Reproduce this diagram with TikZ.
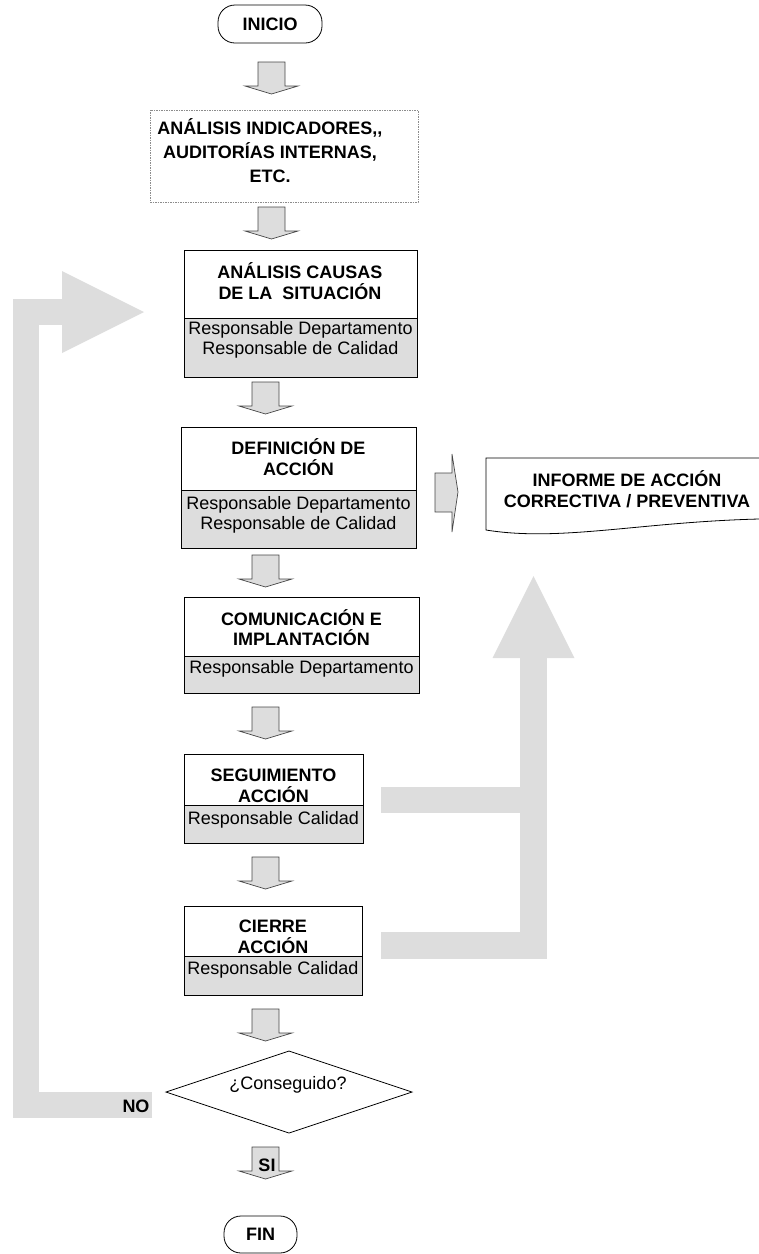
\documentclass[tikz,border=0pt]{standalone}
\usepackage{fontspec}
\setmainfont{Liberation Sans}
\usetikzlibrary{shapes.geometric,arrows.meta,calc,positioning}

\definecolor{gris}{RGB}{221,221,221}
\definecolor{borde}{RGB}{70,70,70}

\tikzset{
  caja/.style={draw=black, fill=white, line width=.8pt, inner sep=0pt, outer sep=0pt},
  resp/.style={caja, fill=gris},
  titulo/.style={inner sep=0pt, align=center, font=\fontsize{18}{20.5}\selectfont\bfseries},
  nombre/.style={inner sep=0pt, align=center, font=\fontsize{18}{20.5}\selectfont},
  terminal/.style={caja, rounded corners=17pt, font=\fontsize{18}{20.5}\selectfont\bfseries},
  decision/.style={diamond, draw=black, line width=.8pt, inner sep=0pt, outer sep=0pt},
  retorno/.style={draw=gris, line width=26.5pt, -{Triangle[length=82pt,width=82pt,line width=0pt]}},
  barra/.style={draw=gris, line width=26.5pt},
  pics/bajada/.style={code={\draw[fill=gris, draw=borde, line width=.7pt] (-13.5,0) -- (13.5,0) -- (13.5,24) -- (26.5,24) -- (0,32) -- (-26.5,24) -- (-13.5,24) -- cycle;}}
}

\begin{document}
\begin{tikzpicture}[x=1pt, y=-1pt]
\useasboundingbox (0,0) rectangle (759,1254);

% inicio y analisis previo
\node[terminal, minimum width=104pt, minimum height=38pt] (inicio) at (270,24) {INICIO};
\node[caja, draw=black!45, dash pattern=on 1.5pt off 1pt, line width=.6pt, minimum width=268pt, minimum height=92pt] (indicadores) at (284,156) {};
\node[titulo, font=\fontsize{18}{24}\selectfont\bfseries] (indicadoresT) at (270,151) {ANÁLISIS INDICADORES,{},\\AUDITORÍAS INTERNAS,\\ETC.};

% pasos con responsable
\node[caja, minimum width=233pt, minimum height=68pt] (causas) at (300.5,284) {};
\node[resp, minimum width=233pt, minimum height=59pt, below=0pt of causas] (causasR) {};
\node[titulo] (causasT) at (300,281) {ANÁLISIS CAUSAS\\DE LA~ SITUACIÓN};
\node[nombre] (causasN) at (300.5,340) {Responsable Departamento\\Responsable de Calidad};

\node[caja, minimum width=235pt, minimum height=63pt] (definicion) at (298.5,458.5) {};
\node[resp, minimum width=235pt, minimum height=58pt, below=0pt of definicion] (definicionR) {};
\node[titulo] (definicionT) at (298.5,457) {DEFINICIÓN DE\\ACCIÓN};
\node[nombre] (definicionN) at (298.5,515) {Responsable Departamento\\Responsable de Calidad};

\node[caja, minimum width=235pt, minimum height=59pt] (comunicacion) at (301.5,626.5) {};
\node[resp, minimum width=235pt, minimum height=37pt, below=0pt of comunicacion] (comunicacionR) {};
\node[titulo] (comunicacionT) at (301.5,627.5) {COMUNICACIÓN E\\IMPLANTACIÓN};
\node[nombre] (comunicacionN) at (301.5,669) {Responsable Departamento};

\node[caja, minimum width=179pt, minimum height=51pt] (seguimiento) at (273.5,779.5) {};
\node[resp, minimum width=179pt, minimum height=38pt, below=0pt of seguimiento] (seguimientoR) {};
\node[titulo] (seguimientoT) at (273.5,786) {SEGUIMIENTO\\ACCIÓN};
\node[nombre] (seguimientoN) at (273.5,820) {Responsable Calidad};

\node[caja, minimum width=178pt, minimum height=50pt] (cierre) at (273,931) {};
\node[resp, minimum width=178pt, minimum height=39pt, below=0pt of cierre] (cierreR) {};
\node[titulo] (cierreT) at (273,937) {CIERRE\\ACCIÓN};
\node[nombre] (cierreN) at (273,970) {Responsable Calidad};

% decision y fin
\node[decision, minimum width=246pt, minimum height=82pt] (conseguido) at (289,1092) {};
\node[nombre] (conseguidoT) at (288,1085) {¿Conseguido?};
\node[terminal, minimum width=73pt, minimum height=37pt] (fin) at (260.5,1234.5) {FIN};

% informe
\node[titulo] (informe) at (627,489) {INFORME DE ACCIÓN\\CORRECTIVA / PREVENTIVA};
\draw[line width=.8pt] (759,458) -- (486,458) -- (486,530) .. controls (560,542) and (640,522) .. (759,519);
\draw[fill=gris, draw=borde, line width=.7pt] (435,473) -- (452,473) -- (452,454) -- (458,492) -- (452,532) -- (452,512) -- (435,512) -- cycle;

% flechas de bajada
\coordinate (eje0) at (271.5,0);
\coordinate (eje) at (265.5,0);
\pic at ($(eje0 |- inicio.south)+(0,19)$) {bajada};
\pic at ($(eje0 |- indicadores.south)+(0,5)$) {bajada};
\pic at ($(eje |- causasR.south)+(0,5)$) {bajada};
\pic at ($(eje |- definicionR.south)+(0,7)$) {bajada};
\pic at ($(eje |- comunicacionR.south)+(0,14)$) {bajada};
\pic at ($(eje |- seguimientoR.south)+(0,14)$) {bajada};
\pic at ($(eje |- cierreR.south)+(0,14)$) {bajada};
\pic at ($(eje |- conseguido.south)+(0,14)$) {bajada};
\node[titulo] (si) at (267,1165) {SI};

% retornos grises
\coordinate (punta) at (533.5,576);
\draw[retorno] ($(conseguido.west)+(-14,13)$) -- ++(-126,0) |- ($(causas.south west)+(-40,-6)$);
\draw[retorno] ($(cierre.east)+(19,14.5)$) -| (punta);
\draw[barra] ($(seguimiento.east)+(18,20.5)$) coordinate (s) -- (s -| punta);
\node[titulo] (no) at (136,1106) {NO};
\end{tikzpicture}
\end{document}
